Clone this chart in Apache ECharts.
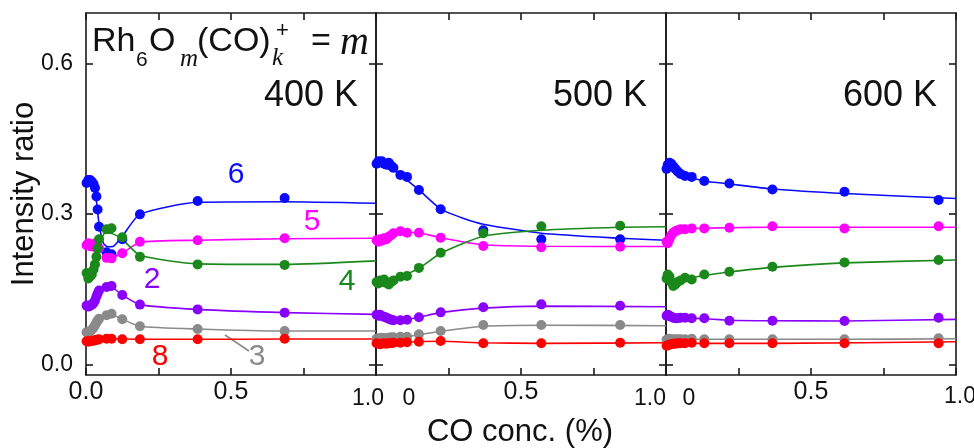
<!DOCTYPE html>
<html><head><meta charset="utf-8">
<script src="https://cdn.jsdelivr.net/npm/echarts@6/dist/echarts.min.js"></script>
<style>html,body{margin:0;padding:0;background:#fff}#c{width:974px;height:448px}</style>
</head><body><div id="c"></div>
<script>
// ---------- DATA ----------
const panelTemps = ['400 K', '500 K', '600 K'];
const speciesNames = ['6', '5', '4', '2', '3', '8'];
const yTickValues = [0, 0.3, 0.6];
const xTickLabelsFirst = [0, 0.5];
const xTickLabelsOther = [0.5];

// 400 K measured points
const x400 = [0.002, 0.008, 0.014, 0.02, 0.026, 0.031, 0.036, 0.04, 0.045, 0.071, 0.088, 0.125, 0.186, 0.385, 0.685];
const y400_6 = [0.362, 0.368, 0.368, 0.365, 0.36, 0.352, 0.335, 0.309, 0.275, 0.224, 0.22, 0.25, 0.2995, 0.326, 0.332];
const y400_5 = [0.238, 0.242, 0.236, 0.24, 0.235, 0.238, 0.243, 0.237, 0.232, 0.213, 0.212, 0.222, 0.245, 0.248, 0.252];
const y400_4 = [0.183, 0.172, 0.176, 0.18, 0.19, 0.2, 0.215, 0.232, 0.25, 0.27, 0.272, 0.254, 0.215, 0.2, 0.199];
const y400_2 = [0.118, 0.116, 0.118, 0.12, 0.123, 0.128, 0.136, 0.142, 0.148, 0.155, 0.157, 0.139, 0.12, 0.1105, 0.104];
const y400_3 = [0.065, 0.064, 0.067, 0.07, 0.074, 0.079, 0.084, 0.088, 0.092, 0.099, 0.102, 0.091, 0.077, 0.0714, 0.0674];
const y400_8 = [0.047, 0.046, 0.047, 0.048, 0.048, 0.049, 0.05, 0.05, 0.051, 0.052, 0.052, 0.051, 0.051, 0.051, 0.052];
// 400 K fitted curves
const fit400_6 = [[0,0.366],[0.02,0.36],[0.035,0.33],[0.045,0.28],[0.06,0.242],[0.075,0.235],[0.095,0.236],[0.125,0.256],[0.186,0.2995],[0.385,0.3235],[0.685,0.3245],[1.0,0.3215]];
const fit400_5 = [[0,0.24],[0.03,0.238],[0.05,0.228],[0.07,0.215],[0.09,0.214],[0.125,0.222],[0.186,0.244],[0.385,0.248],[0.685,0.251],[1.0,0.252]];
const fit400_4 = [[0,0.178],[0.02,0.18],[0.035,0.205],[0.05,0.245],[0.065,0.262],[0.085,0.262],[0.125,0.25],[0.186,0.218],[0.385,0.201],[0.685,0.2],[1.0,0.207]];
const fit400_2 = [[0,0.118],[0.02,0.12],[0.04,0.14],[0.06,0.152],[0.085,0.155],[0.125,0.139],[0.186,0.12],[0.385,0.1105],[0.685,0.104],[1.0,0.1006]];
const fit400_3 = [[0,0.064],[0.02,0.07],[0.04,0.087],[0.06,0.096],[0.085,0.1],[0.125,0.091],[0.186,0.077],[0.385,0.0714],[0.685,0.0674],[1.0,0.0674]];
const fit400_8 = [[0,0.047],[0.05,0.05],[0.1,0.052],[0.186,0.051],[0.385,0.051],[0.685,0.0515],[1.0,0.0515]];

// 500 K measured points
const x500 = [0.002, 0.008, 0.014, 0.02, 0.028, 0.036, 0.044, 0.052, 0.06, 0.084, 0.107, 0.148, 0.223, 0.37, 0.57, 0.842];
const y500_6 = [0.4, 0.405, 0.403, 0.405, 0.4, 0.398, 0.402, 0.396, 0.392, 0.378, 0.374, 0.348, 0.3095, 0.268, 0.25, 0.25];
const y500_5 = [0.248, 0.245, 0.25, 0.247, 0.252, 0.25, 0.255, 0.258, 0.262, 0.266, 0.263, 0.263, 0.253, 0.2365, 0.234, 0.235];
const y500_4 = [0.165, 0.162, 0.168, 0.165, 0.17, 0.163, 0.16, 0.165, 0.168, 0.1755, 0.177, 0.193, 0.223, 0.262, 0.276, 0.277];
const y500_2 = [0.1, 0.098, 0.1, 0.097, 0.096, 0.094, 0.092, 0.09, 0.089, 0.089, 0.09, 0.0947, 0.1046, 0.1146, 0.1205, 0.1178];
const y500_3 = [0.052, 0.053, 0.052, 0.054, 0.053, 0.053, 0.054, 0.055, 0.055, 0.056, 0.056, 0.061, 0.0674, 0.0794, 0.0794, 0.0794];
const y500_8 = [0.043, 0.042, 0.041, 0.042, 0.043, 0.042, 0.043, 0.043, 0.044, 0.044, 0.045, 0.046, 0.0475, 0.043, 0.043, 0.044];
// 500 K fitted curves
const fit500_6 = [[0,0.402],[0.05,0.396],[0.084,0.378],[0.148,0.348],[0.223,0.31],[0.3,0.292],[0.37,0.28],[0.57,0.262],[0.842,0.252],[1.0,0.248]];
const fit500_5 = [[0,0.246],[0.05,0.256],[0.084,0.264],[0.148,0.263],[0.223,0.253],[0.37,0.239],[0.57,0.236],[1.0,0.2355]];
const fit500_4 = [[0,0.163],[0.05,0.166],[0.084,0.175],[0.148,0.192],[0.223,0.222],[0.37,0.256],[0.57,0.268],[0.842,0.274],[1.0,0.275]];
const fit500_2 = [[0,0.1],[0.06,0.09],[0.1,0.09],[0.148,0.095],[0.223,0.104],[0.37,0.113],[0.57,0.117],[1.0,0.1158]];
const fit500_3 = [[0,0.053],[0.1,0.056],[0.148,0.06],[0.223,0.067],[0.37,0.077],[0.57,0.079],[1.0,0.078]];
const fit500_8 = [[0,0.041],[0.1,0.045],[0.223,0.047],[0.37,0.044],[0.57,0.043],[1.0,0.044]];

// 600 K measured points
const x600 = [0.002, 0.006, 0.012, 0.018, 0.025, 0.032, 0.04, 0.05, 0.0656, 0.0887, 0.132, 0.2185, 0.367, 0.6155, 0.94];
const y600_6 = [0.39, 0.398, 0.402, 0.4, 0.395, 0.39, 0.385, 0.38, 0.376, 0.374, 0.3657, 0.361, 0.349, 0.3445, 0.328];
const y600_5 = [0.245, 0.242, 0.25, 0.258, 0.263, 0.266, 0.268, 0.27, 0.27, 0.2716, 0.2716, 0.273, 0.276, 0.2716, 0.276];
const y600_4 = [0.172, 0.18, 0.176, 0.165, 0.157, 0.16, 0.165, 0.168, 0.1734, 0.17, 0.18, 0.1854, 0.1953, 0.204, 0.2086];
const y600_2 = [0.098, 0.1, 0.098, 0.096, 0.094, 0.093, 0.093, 0.094, 0.094, 0.0927, 0.0927, 0.088, 0.088, 0.0873, 0.094];
const y600_3 = [0.05, 0.051, 0.052, 0.051, 0.05, 0.051, 0.051, 0.051, 0.051, 0.052, 0.051, 0.051, 0.051, 0.051, 0.053];
const y600_8 = [0.038, 0.039, 0.04, 0.041, 0.042, 0.042, 0.043, 0.043, 0.043, 0.044, 0.043, 0.043, 0.043, 0.043, 0.043];
// 600 K fitted curves
const fit600_6 = [[0,0.392],[0.03,0.39],[0.0656,0.377],[0.132,0.366],[0.2185,0.36],[0.367,0.35],[0.6155,0.341],[1.0,0.331]];
const fit600_5 = [[0,0.245],[0.03,0.262],[0.0656,0.27],[0.132,0.272],[0.2185,0.273],[0.367,0.274],[0.6155,0.274],[1.0,0.274]];
const fit600_4 = [[0,0.172],[0.025,0.16],[0.0656,0.17],[0.132,0.178],[0.2185,0.185],[0.367,0.194],[0.6155,0.203],[1.0,0.2086]];
const fit600_2 = [[0,0.098],[0.05,0.094],[0.132,0.092],[0.2185,0.089],[0.367,0.088],[0.6155,0.0875],[1.0,0.0907]];
const fit600_3 = [[0,0.049],[0.1,0.051],[0.367,0.051],[0.6155,0.051],[1.0,0.052]];
const fit600_8 = [[0,0.04],[0.06,0.043],[0.367,0.043],[1.0,0.046]];

// ---------- BUILD ----------
const FONT = "'Liberation Sans', Arial, sans-serif";
const SERIF = "'Liberation Serif', 'Times New Roman', serif";
const colors = {'6':'#0a0aff','5':'#ff00ff','4':'#1a881a','2':'#8a00ff','3':'#8a8a8a','8':'#ff0000'};
const panels = [
  {x: x400, ys: {'6':y400_6,'5':y400_5,'4':y400_4,'2':y400_2,'3':y400_3,'8':y400_8},
   fits: {'6':fit400_6,'5':fit400_5,'4':fit400_4,'2':fit400_2,'3':fit400_3,'8':fit400_8}},
  {x: x500, ys: {'6':y500_6,'5':y500_5,'4':y500_4,'2':y500_2,'3':y500_3,'8':y500_8},
   fits: {'6':fit500_6,'5':fit500_5,'4':fit500_4,'2':fit500_2,'3':fit500_3,'8':fit500_8}},
  {x: x600, ys: {'6':y600_6,'5':y600_5,'4':y600_4,'2':y600_2,'3':y600_3,'8':y600_8},
   fits: {'6':fit600_6,'5':fit600_5,'4':fit600_4,'2':fit600_2,'3':fit600_3,'8':fit600_8}}
];

const AX = '#1a1a1a';
const grids = [], xAxes = [], yAxes = [], series = [];
panels.forEach((p, i) => {
  grids.push({left: 86 + 290 * i, top: 13, width: 290, height: 362});
  const axLine = {show: true, onZero: false, lineStyle: {color: AX, width: 1.6}};
  const tick = {show: true, inside: true, length: 7, lineStyle: {color: AX, width: 1.6}};
  xAxes.push({gridIndex: i, type: 'value', min: 0, max: 1, interval: 0.25, position: 'bottom',
    axisLine: axLine, axisTick: tick, splitLine: {show: false},
    axisLabel: {show: true, customValues: i === 0 ? xTickLabelsFirst : xTickLabelsOther,
      formatter: v => v.toFixed(1), fontSize: 25, color: '#111', margin: 5, fontFamily: FONT}});
  xAxes.push({gridIndex: i, type: 'value', min: 0, max: 1, interval: 0.25, position: 'top',
    axisLine: axLine, axisTick: tick, splitLine: {show: false}, axisLabel: {show: false}});
  yAxes.push({gridIndex: i, type: 'value', min: -0.02, max: 0.7, position: 'left',
    axisLine: axLine, axisTick: Object.assign({customValues: yTickValues}, tick), splitLine: {show: false},
    axisLabel: {show: i === 0, customValues: yTickValues, formatter: v => v.toFixed(1),
      fontSize: 23, color: '#111', margin: 13, fontFamily: FONT}});
  yAxes.push({gridIndex: i, type: 'value', min: -0.02, max: 0.7, position: 'right',
    axisLine: axLine, axisTick: Object.assign({customValues: yTickValues}, tick), splitLine: {show: false},
    axisLabel: {show: false}});
  speciesNames.forEach(s => {
    series.push({type: 'line', xAxisIndex: 2 * i, yAxisIndex: 2 * i, data: p.fits[s], smooth: 0.2,
      showSymbol: false, symbol: 'none', lineStyle: {color: colors[s], width: 1.6}, z: 2, silent: true});
  });
  speciesNames.forEach(s => {
    series.push({type: 'scatter', xAxisIndex: 2 * i, yAxisIndex: 2 * i,
      data: p.x.map((v, k) => [v, p.ys[s][k]]), symbol: 'circle', symbolSize: 10,
      itemStyle: {color: colors[s], opacity: 1}, z: 3, silent: true});
  });
});

function txt(t, x, y, size, color, opts) {
  return Object.assign({type: 'text', x: x, y: y, silent: true,
    style: Object.assign({text: t, fontSize: size, fill: color || '#111', fontFamily: FONT,
      align: 'left', verticalAlign: 'middle'}, (opts && opts.style) || {})}, (opts && opts.el) || {});
}

const graphic = [
  // title formula
  txt('Rh', 92, 42, 34), txt('6', 136, 60, 21), txt('O', 149, 42, 34),
  txt('m', 180, 59, 25, '#111', {style: {fontFamily: SERIF, fontStyle: 'italic'}}),
  txt('(CO)', 197, 42, 34),
  txt('k', 272, 58, 25, '#111', {style: {fontFamily: SERIF, fontStyle: 'italic'}}),
  txt('+', 276, 31, 22),
  txt('=', 311, 42, 34),
  txt('m', 340, 43, 40, '#111', {style: {fontFamily: SERIF, fontStyle: 'italic'}}),
  // temperatures
  txt(panelTemps[0], 358, 96, 36, '#111', {style: {align: 'right'}}),
  txt(panelTemps[1], 647, 96, 36, '#111', {style: {align: 'right'}}),
  txt(panelTemps[2], 937, 96, 36, '#111', {style: {align: 'right'}}),
  // species labels
  txt('6', 236, 175, 30, colors['6'], {style: {align: 'center'}}),
  txt('5', 312, 222, 30, colors['5'], {style: {align: 'center'}}),
  txt('2', 152, 280, 30, colors['2'], {style: {align: 'center'}}),
  txt('4', 347, 282, 30, colors['4'], {style: {align: 'center'}}),
  txt('8', 160, 357, 30, colors['8'], {style: {align: 'center'}}),
  txt('3', 257, 357, 30, colors['3'], {style: {align: 'center'}}),
  {type: 'line', silent: true, shape: {x1: 225, y1: 335, x2: 249, y2: 351}, style: {stroke: colors['3'], lineWidth: 1.6}},
  // extra x tick labels at panel joins
  txt('1.0', 368, 399, 23, '#111', {style: {align: 'center'}}),
  txt('0', 409, 399, 23, '#111', {style: {align: 'center'}}),
  txt('1.0', 650, 399, 23, '#111', {style: {align: 'center'}}),
  txt('0', 689, 399, 23, '#111', {style: {align: 'center'}}),
  txt('1.0', 960, 397, 23, '#111', {style: {align: 'center'}}),
  // axis titles
  txt('CO conc. (%)', 520, 432, 31, '#111', {style: {align: 'center'}}),
  {type: 'text', x: 24, y: 194, rotation: Math.PI / 2, silent: true,
   style: {text: 'Intensity ratio', fontSize: 31, fill: '#111', fontFamily: FONT, align: 'center', verticalAlign: 'middle'}}
];

const chart = echarts.init(document.getElementById('c'), null, {renderer: 'canvas'});
chart.setOption({
  backgroundColor: '#fff',
  animation: false,
  grid: grids, xAxis: xAxes, yAxis: yAxes, series: series, graphic: graphic
});
</script></body></html>
